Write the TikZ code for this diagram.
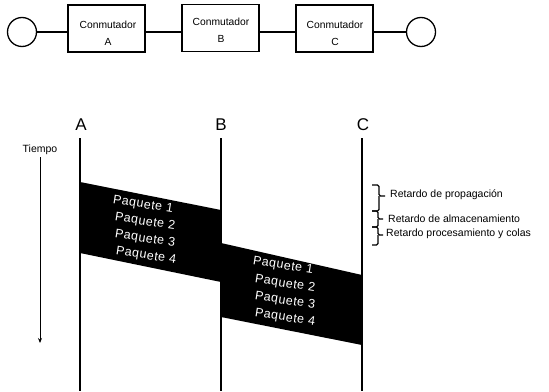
\documentclass[tikz,border=0pt]{standalone}
\usepackage{fontspec}
\setmainfont{Liberation Sans}
\usetikzlibrary{arrows.meta}

\begin{document}
\begin{tikzpicture}[x=1pt,y=-1pt,
  switchbox/.style={draw,line width=1.4pt,minimum width=77pt,minimum height=47pt,inner sep=0pt},
  switchtext/.style={align=center,inner sep=0pt,font=\fontsize{10.3}{17}\selectfont},
  host/.style={draw,circle,line width=1.3pt,minimum size=29pt,inner sep=0pt},
  link/.style={line width=1.5pt},
  timeline/.style={line width=2.3pt},
  packetband/.style={fill=black},
  pkt/.style={text=white,font=\fontsize{12.5}{12.5}\selectfont\addfontfeature{LetterSpace=4},
    rotate=-9,inner sep=0pt},
  delay/.style={font=\fontsize{10.5}{10.5}\selectfont,anchor=west,inner sep=0pt},
  delaybrace/.style={line width=1.2pt,rounded corners=1.5pt},
  station/.style={font=\fontsize{17}{17}\selectfont,inner sep=0pt},
]
\useasboundingbox (0,0) rectangle (549,391);

% --- network: host, three switches, host
\node[host] (h1) at (22,32) {};
\node[switchbox] (sa) at (106.5,28.5) {};
\node[switchbox] (sb) at (220.5,28) {};
\node[switchbox] (sc) at (334.5,28.5) {};
\node[switchtext] (ta) at (108,33) {Conmutador\\A};
\node[switchtext] (tb) at (221,30) {Conmutador\\B};
\node[switchtext] (tc) at (335,33) {Conmutador\\C};
\node[host] (h2) at (421,32) {};

\draw[link] (h1.east) -- (h1.east -| sa.west);
\draw[link] (sa.east |- h1.east) -- (sb.west |- h1.east);
\draw[link] (sb.east |- h1.east) -- (sc.west |- h1.east);
\draw[link] (sc.east |- h2.west) -- (h2.west);

% --- time axis
\node[font=\fontsize{10.5}{10.5}\selectfont,inner sep=0pt] (tiempo) at (40,150) {Tiempo};
\coordinate (tend) at (40,343);
\draw[line width=1pt,-{Stealth[length=5pt,width=4pt]}] (40,157) -- (tend);

% --- station timelines
\node[station] (la) at (81,125) {A};
\node[station] (lb) at (221,125) {B};
\node[station] (lc) at (363,125) {C};
\coordinate (ea) at (80,391);
\coordinate (eb) at (221,391);
\coordinate (ec) at (362,391);
\draw[timeline] (80,138) -- (ea);
\draw[timeline] (221,138) -- (eb);
\draw[timeline] (362,138) -- (ec);

% --- packets on link A-B
\fill[packetband] (80,182) -- (221,210) -- (221,282) -- (80,253) -- cycle;
\node[pkt] (ab1) at (143,205) {Paquete 1};
\node[pkt] (ab2) at (145,222) {Paquete 2};
\node[pkt] (ab3) at (145,239) {Paquete 3};
\node[pkt] (ab4) at (146,256) {Paquete 4};

% --- packets on link B-C
\fill[packetband] (221,243) -- (362,275) -- (362,345) -- (221,317) -- cycle;
\node[pkt] (bc1) at (283,266) {Paquete 1};
\node[pkt] (bc2) at (285,284) {Paquete 2};
\node[pkt] (bc3) at (285,301) {Paquete 3};
\node[pkt] (bc4) at (285,318) {Paquete 4};

% --- delay components
\draw[delaybrace] (372,185) -| (379,196) -- (385,196);
\draw[delaybrace] (379,196) |- (372,211);
\draw[delaybrace] (372,211) -- (378,211) -- (378,219) -- (383,219);
\draw[delaybrace] (378,219) |- (372,227);
\draw[delaybrace] (372,227) -- (378,227) -- (378,235) -- (383,235);
\draw[delaybrace] (378,235) |- (372,245);
\node[delay] (d1) at (390,195) {Retardo de propagación};
\node[delay] (d2) at (388,219) {Retardo de almacenamiento};
\node[delay] (d3) at (386,234) {Retardo procesamiento y colas};
\end{tikzpicture}
\end{document}
